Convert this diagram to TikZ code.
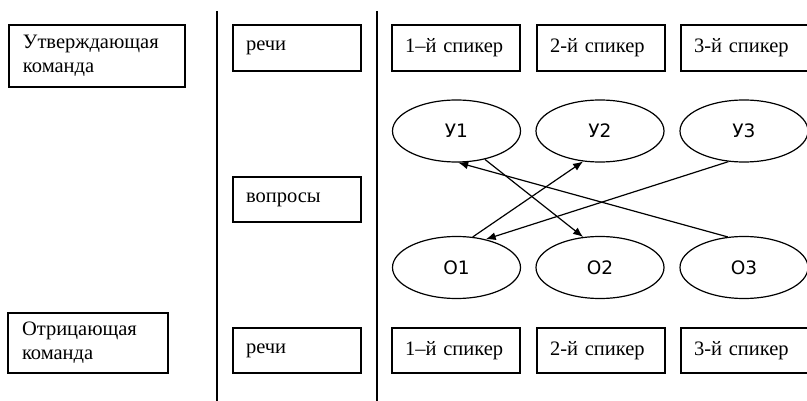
\documentclass[tikz,border=0pt]{standalone}
\usepackage{fontspec}
\setmainfont{Liberation Serif}
\newfontfamily\lblfont{DejaVu Sans}
\usetikzlibrary{shapes.geometric,arrows.meta}
\begin{document}
\begin{tikzpicture}[x=1pt,y=-1pt,
  box/.style={draw,line width=1.2pt,rectangle,inner ysep=0pt,inner xsep=13pt,align=left,
    font=\fontsize{20.5}{24}\selectfont},
  ell/.style={draw,line width=1.2pt,ellipse,inner sep=0pt,minimum width=128pt,minimum height=62pt,
    font=\lblfont\fontsize{18.5}{22}\selectfont},
  arr/.style={line width=1.2pt,-{Latex[length=10pt,width=8pt]}},
  divider/.style={line width=1.2pt}]
\useasboundingbox (0,0) rectangle (807,401);
% left column
\node[box,inner xsep=14pt,text width=148pt,minimum height=62pt] (aff) at (97,56) {Утверждающая\\команда};
\node[box,inner xsep=14pt,text width=132pt,minimum height=60pt] (neg) at (88,343) {Отрицающая\\команда};
% middle column
\node[box,text width=102pt,minimum height=46pt] (speechT) at (297,48) {речи};
\node[box,text width=102pt,minimum height=45pt] (quest) at (297,199.5) {вопросы};
\node[box,text width=102pt,minimum height=45pt] (speechB) at (297,350.5) {речи};
% speakers
\node[box,text width=102pt,minimum height=46pt] (t1) at (456,48) {1–й спикер};
\node[box,text width=102pt,minimum height=46pt] (t2) at (601,48) {2-й спикер};
\node[box,text width=102pt,minimum height=46pt] (t3) at (745,48) {3-й спикер};
\node[box,text width=102pt,minimum height=45pt] (b1) at (456,350.5) {1–й спикер};
\node[box,text width=102pt,minimum height=45pt] (b2) at (601,350.5) {2-й спикер};
\node[box,text width=102pt,minimum height=45pt] (b3) at (745,350.5) {3-й спикер};
% ellipses
\node[ell] (u1) at (456.5,131) {У1};
\node[ell] (u2) at (600,131) {У2};
\node[ell] (u3) at (744,131) {У3};
\node[ell] (o1) at (456.5,267.5) {О1};
\node[ell] (o2) at (600,267.5) {О2};
\node[ell] (o3) at (744,267.5) {О3};
% dividers
\coordinate (d1t) at (217,11);
\coordinate (d1b) at (217,401);
\coordinate (d2t) at (377,11);
\coordinate (d2b) at (377,401);
\draw[divider] (d1t) -- (d1b);
\draw[divider] (d2t) -- (d2b);
% arrows
\draw[arr] (u1.-45) -- (o2.119);
\draw[arr] (o1.62) -- (u2.-119);
\draw[arr] (u3.-117) -- (o1.44);
\draw[arr] (o3.118) -- (u1.-87);
\end{tikzpicture}
\end{document}
